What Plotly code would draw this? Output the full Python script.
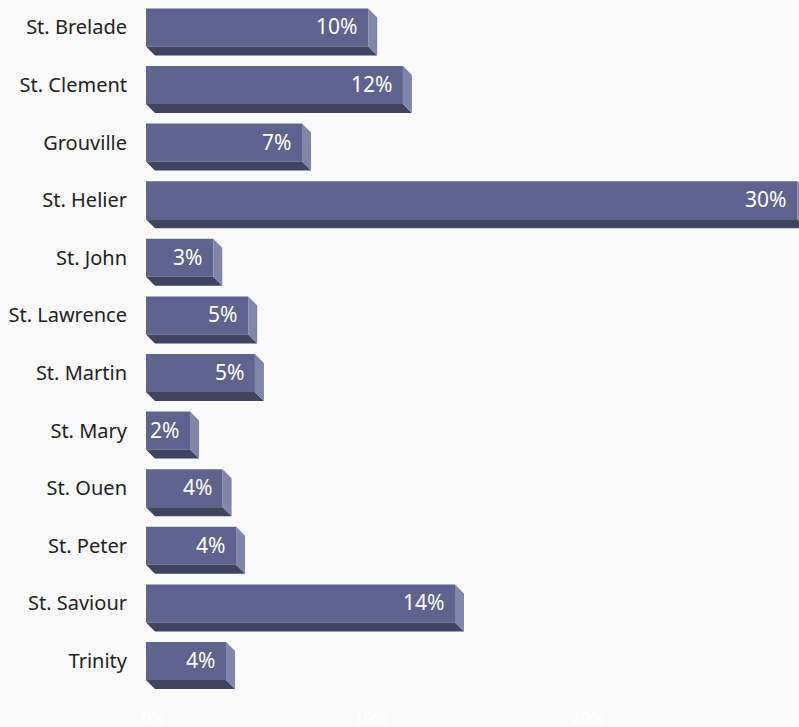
import plotly.graph_objects as go

# Share of population by parish (%)
parishes = ["St. Brelade", "St. Clement", "Grouville", "St. Helier", "St. John",
            "St. Lawrence", "St. Martin", "St. Mary", "St. Ouen", "St. Peter",
            "St. Saviour", "Trinity"]
shares = [10.24, 11.84, 7.19, 30.02, 3.10, 4.71, 5.02, 2.03, 3.53, 4.15, 14.24, 3.69]
x_ticks = [0, 10, 20]
x_tick_text = ["0%", "10%", "20%"]

FRONT = "#5e648e"
BOTTOM = "#404460"
SIDE = "#8086aa"
BG = "#f9f9f9"

W, H = 799, 727
M_L, M_T, M_B = 146, 0, 21
px_per_unit_x = 21.7
px_per_row = 57.6
x_max = (W - M_L) / px_per_unit_x
y_top = -27.4 / px_per_row
y_bot = y_top + (H - M_T - M_B) / px_per_row

half = 0.33                 # half thickness of the front face (row units)
dx = 9 / px_per_unit_x      # depth offset, value axis
dy = 9 / px_per_row         # depth offset, row axis

rows = list(range(len(parishes)))

# bottom and side faces of the extruded bars
bx, by, sx, sy = [], [], [], []
for i, v in zip(rows, shares):
    y0, y1 = i - half, i + half
    bx += [0, v, v + dx, dx, 0, None]
    by += [y1, y1, y1 + dy, y1 + dy, y1, None]
    sx += [v, v + dx, v + dx, v, v, None]
    sy += [y0, y0 + dy, y1 + dy, y1, y0, None]

fig = go.Figure()
fig.add_trace(go.Scatter(x=bx, y=by, fill="toself", fillcolor=BOTTOM, mode="lines",
                         line=dict(width=0), hoverinfo="skip", showlegend=False))
fig.add_trace(go.Scatter(x=sx, y=sy, fill="toself", fillcolor=SIDE, mode="lines",
                         line=dict(width=0), hoverinfo="skip", showlegend=False))
fig.add_trace(go.Bar(x=shares, y=rows, orientation="h", width=2 * half,
                     marker=dict(color=FRONT, line=dict(width=0)),
                     hovertemplate="%{customdata}: %{x:.0f}%<extra></extra>",
                     customdata=parishes, showlegend=False))

for i, v in zip(rows, shares):
    fig.add_annotation(x=v, y=i, text=f"{v:.0f}%", showarrow=False,
                       xanchor="right", yanchor="middle", xshift=-9, yshift=1,
                       font=dict(family="Noto Sans", size=21, color="white"))

fig.update_layout(
    width=W, height=H,
    margin=dict(l=M_L, r=0, t=M_T, b=M_B),
    paper_bgcolor=BG, plot_bgcolor=BG,
    font=dict(family="Noto Sans", color="#222222"),
    xaxis=dict(range=[0, x_max], tickvals=x_ticks, ticktext=x_tick_text,
               showgrid=False, zeroline=False, showline=False, automargin=False,
               tickfont=dict(size=17, color="white"), ticklabelshift=8,
               fixedrange=True),
    yaxis=dict(range=[y_bot, y_top], tickvals=rows, ticktext=parishes,
               showgrid=False, zeroline=False, showline=False, automargin=False,
               ticklabelstandoff=18,
               tickfont=dict(size=20, color="#222222"), fixedrange=True),
)

fig.write_html("out.html")
